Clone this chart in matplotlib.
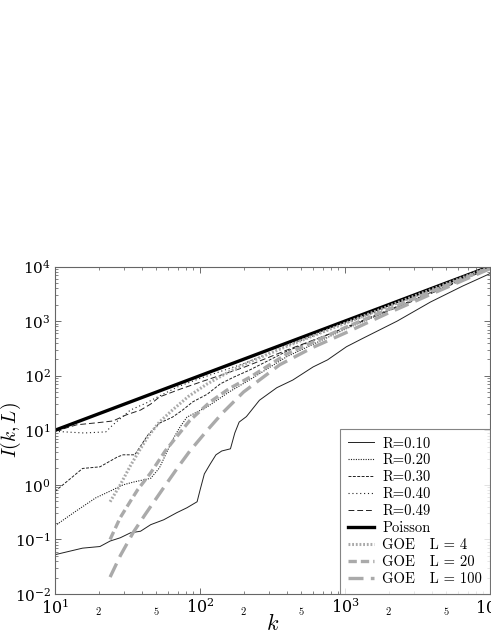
import numpy as np
import matplotlib
matplotlib.use("Agg")
import matplotlib.pyplot as plt
from matplotlib.ticker import LogLocator, FuncFormatter, NullFormatter

plt.rcParams['mathtext.fontset'] = 'cm'
plt.rcParams['font.family'] = ['DejaVu Serif']

# ---- data (log10 k, log10 I) ----
poisson_logk = [1.0, 4.0]
poisson_logI = [1.0, 4.0]

r10_logk = [1.0, 1.19, 1.31, 1.38, 1.45, 1.52, 1.59, 1.66, 1.75, 1.84, 1.91, 1.98, 2.00, 2.03,
            2.07, 2.11, 2.15, 2.21, 2.24, 2.27, 2.32, 2.41, 2.53, 2.64, 2.78, 2.88, 3.01, 3.12,
            3.36, 3.59, 3.81, 4.0]
r10_logI = [-1.28, -1.16, -1.13, -1.03, -0.97, -0.88, -0.85, -0.73, -0.64, -0.51, -0.42, -0.31,
            -0.10, 0.20, 0.38, 0.55, 0.62, 0.66, 0.95, 1.15, 1.25, 1.55, 1.78, 1.92, 2.16, 2.29,
            2.53, 2.68, 3.0, 3.35, 3.64, 3.87]

r20_logk = [1.0, 1.14, 1.28, 1.40, 1.47, 1.54, 1.66, 1.72, 1.81, 1.86, 1.91, 2.05, 2.2, 2.34,
            2.6, 3.0, 3.5, 4.0]
r20_logI = [-0.75, -0.49, -0.24, -0.09, 0.0, 0.05, 0.12, 0.31, 0.82, 1.05, 1.24, 1.43, 1.70,
            1.92, 2.35, 2.85, 3.42, 3.98]

r30_logk = [1.0, 1.10, 1.19, 1.31, 1.43, 1.47, 1.55, 1.60, 1.64, 1.72, 1.81, 1.88, 1.95, 2.05,
            2.14, 2.23, 2.34, 2.6, 3.0, 3.5, 4.0]
r30_logI = [-0.12, 0.10, 0.30, 0.33, 0.51, 0.55, 0.55, 0.75, 0.91, 1.13, 1.24, 1.37, 1.52, 1.66,
            1.85, 1.97, 2.10, 2.45, 2.88, 3.42, 3.97]

r40_logk = [1.0, 1.2, 1.35, 1.40, 1.52, 1.63, 1.70, 1.85, 2.0, 2.3, 2.6, 3.0, 3.5, 4.0]
r40_logI = [0.98, 0.95, 0.97, 1.10, 1.37, 1.50, 1.60, 1.80, 1.95, 2.22, 2.55, 2.95, 3.46, 3.99]

r49_logk = [1.0, 1.15, 1.30, 1.40, 1.49, 1.59, 1.66, 1.72, 1.86, 2.0, 2.3, 2.6, 3.0, 3.5, 4.0]
r49_logI = [0.98, 1.10, 1.14, 1.17, 1.28, 1.37, 1.48, 1.61, 1.75, 1.88, 2.15, 2.47, 2.87, 3.40, 3.97]

goe4_logk = [1.38, 1.45, 1.52, 1.58, 1.64, 1.72, 1.81, 1.92, 2.05, 2.2, 2.35, 2.6, 3.0, 3.5, 4.0]
goe4_logI = [-0.31, 0.0, 0.35, 0.62, 0.88, 1.15, 1.37, 1.62, 1.85, 2.07, 2.26, 2.54, 2.96, 3.48, 3.99]

goe20_logk = [1.38, 1.45, 1.52, 1.57, 1.66, 1.76, 1.86, 1.93, 2.07, 2.2, 2.35, 2.6, 3.0, 3.5, 4.0]
goe20_logI = [-1.0, -0.6, -0.3, -0.09, 0.22, 0.62, 0.95, 1.18, 1.52, 1.76, 1.98, 2.4, 2.88, 3.44, 3.98]

goe100_logk = [1.38, 1.45, 1.54, 1.62, 1.75, 1.85, 1.93, 2.05, 2.16, 2.3, 2.55, 2.78, 3.0, 3.3, 3.6, 4.0]
goe100_logI = [-1.69, -1.3, -0.87, -0.55, -0.05, 0.33, 0.62, 1.0, 1.33, 1.7, 2.2, 2.52, 2.78, 3.15,
               3.5, 3.96]

labels = ['R=0.10', 'R=0.20', 'R=0.30', 'R=0.40', 'R=0.49', 'Poisson',
          'GOE   L = 4', 'GOE   L = 20', 'GOE   L = 100']

series = [
    (r10_logk, r10_logI, dict(color='#222222', lw=0.7, ls='-')),
    (r20_logk, r20_logI, dict(color='#222222', lw=0.8, ls=(0, (1, 1.2)))),
    (r30_logk, r30_logI, dict(color='#222222', lw=0.7, ls=(0, (3, 1.5)))),
    (r40_logk, r40_logI, dict(color='#222222', lw=0.8, ls=(0, (1, 2.5)))),
    (r49_logk, r49_logI, dict(color='#222222', lw=0.7, ls=(0, (6, 3)))),
    (poisson_logk, poisson_logI, dict(color='black', lw=2.4, ls='-')),
    (goe4_logk, goe4_logI, dict(color='#aaaaaa', lw=2.2, ls=(0, (0.6, 0.6)))),
    (goe20_logk, goe20_logI, dict(color='#aaaaaa', lw=2.4, ls=(0, (2.5, 1.2)))),
    (goe100_logk, goe100_logI, dict(color='#aaaaaa', lw=2.4, ls=(0, (4.5, 2.2)))),
]

fig = plt.figure(figsize=(4.91, 6.35), dpi=100)
ax = fig.add_axes([55 / 491, (635 - 594) / 635, (490 - 55) / 491, (594 - 266.5) / 635])

for (lk, li, st), lab in zip(series, labels):
    ax.plot(10 ** np.array(lk), 10 ** np.array(li), label=lab, **st)

ax.set_xscale('log')
ax.set_yscale('log')
ax.set_xlim(10, 1e4)
ax.set_ylim(1e-2, 1e4)

ax.xaxis.set_major_locator(LogLocator(base=10, numticks=10))
ax.yaxis.set_major_locator(LogLocator(base=10, numticks=10))
ax.xaxis.set_minor_locator(LogLocator(base=10, subs=np.arange(2, 10), numticks=20))
ax.yaxis.set_minor_locator(LogLocator(base=10, subs=np.arange(2, 10), numticks=20))


def minor_fmt(v, pos):
    m = v / 10 ** np.floor(np.log10(v) + 1e-9)
    m = round(m)
    if m in (2, 5):
        return r'$%d$' % m
    return ''


ax.xaxis.set_minor_formatter(FuncFormatter(minor_fmt))
ax.yaxis.set_minor_formatter(NullFormatter())

ax.tick_params(which='both', direction='in', top=True, right=True, colors='#555555',
               labelcolor='black')
ax.tick_params(which='major', length=4, width=0.6, labelsize=11.5)
ax.tick_params(which='minor', length=2, width=0.5, labelsize=7.5)
ax.tick_params(axis='x', which='major', pad=3)
ax.tick_params(axis='x', which='minor', pad=8)
ax.tick_params(axis='y', which='major', pad=3, labelsize=11)
for sp in ax.spines.values():
    sp.set_color('#666666')
    sp.set_linewidth(0.8)

ax.set_xlabel(r'$k$', fontsize=16, labelpad=-3)
ax.set_ylabel(r'$I(k,L)$', fontsize=14)
ax.yaxis.set_label_coords(-0.074, 0.5)

leg = ax.legend(loc='lower right', prop={'family': 'cmr10', 'size': 10.5}, frameon=True,
                fancybox=False, edgecolor='#666666', handlelength=1.8, handletextpad=0.55,
                labelspacing=0.22, borderaxespad=0.0, borderpad=0.55)
leg.get_frame().set_linewidth(0.8)

fig.savefig('out.png', dpi=100)
